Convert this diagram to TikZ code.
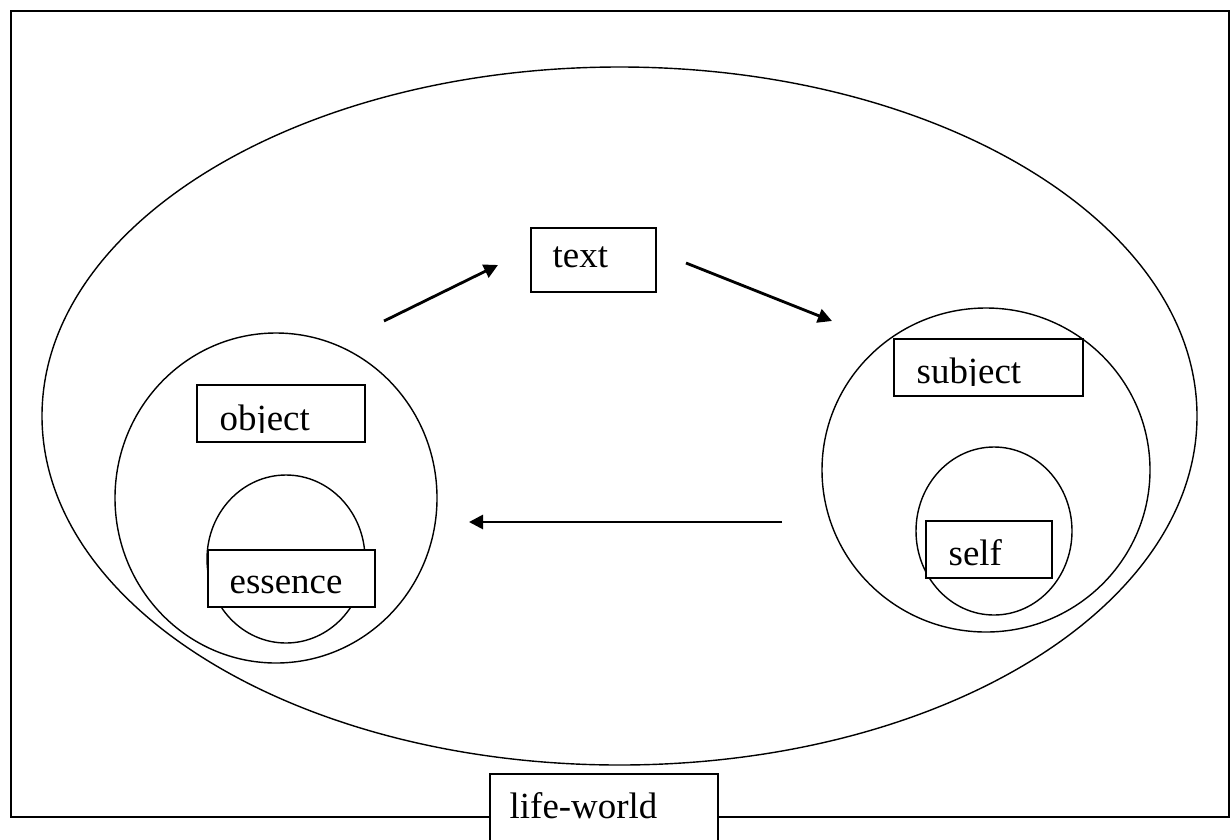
\documentclass[tikz,border=0pt]{standalone}
\usepackage{fontspec}
\setmainfont{Liberation Serif}
\usetikzlibrary{arrows.meta}

\tikzset{
  box/.style={draw, fill=white},
  lbl/.style={anchor=base west, inner sep=0pt, font=\fontsize{21}{25}\selectfont},
  flow/.style={line width=1.6pt, -{Triangle[length=8pt,width=8pt]}},
}

\begin{document}
\begin{tikzpicture}[x=0.02cm, y=-0.02cm, line width=0.8pt]
\clip (0,0) rectangle (1230,839);
% frame and world
\draw[line width=1pt] (11,11) rectangle (1229,817);
\draw (619.5,416) ellipse [x radius=577.5, y radius=349];
% object side
\draw (276,498) ellipse [x radius=161, y radius=165];
\draw (286,559) ellipse [x radius=79, y radius=84];
% subject side
\draw (986,470) ellipse [x radius=164, y radius=162];
\draw (994,531) ellipse [x radius=78, y radius=84];

% boxes
\draw[box] (531,228) rectangle (656,292);
\node[lbl] (text) at (552,267) {text};
\draw[box] (197,385) rectangle (365,442);
\begin{scope}
\clip (197,385) rectangle (365,432);
\node[lbl] (object) at (219,430) {object};
\end{scope}
\draw[box] (208,550) rectangle (375,607);
\node[lbl] (essence) at (229,593) {essence};
\draw[box] (894,339) rectangle (1083,396);
\begin{scope}
\clip (894,339) rectangle (1083,385);
\node[lbl] (subject) at (916,383) {subject};
\end{scope}
\draw[box] (926,521) rectangle (1052,578);
\node[lbl] (self) at (948,565) {self};
\draw[box] (490,774) rectangle (718,850);
\node[lbl] (lifeworld) at (509,818) {life-world};

% arrows
\coordinate (objout) at (384,321);
\coordinate (textin) at (498,265);
\coordinate (textout) at (686,263);
\coordinate (subjin) at (832,321);
\coordinate (subjout) at (782,522);
\coordinate (objin) at (469,522);
\draw[flow] (objout) -- (textin);
\draw[flow] (textout) -- (subjin);
\draw[flow] (subjout) -- (objin);
\end{tikzpicture}
\end{document}
